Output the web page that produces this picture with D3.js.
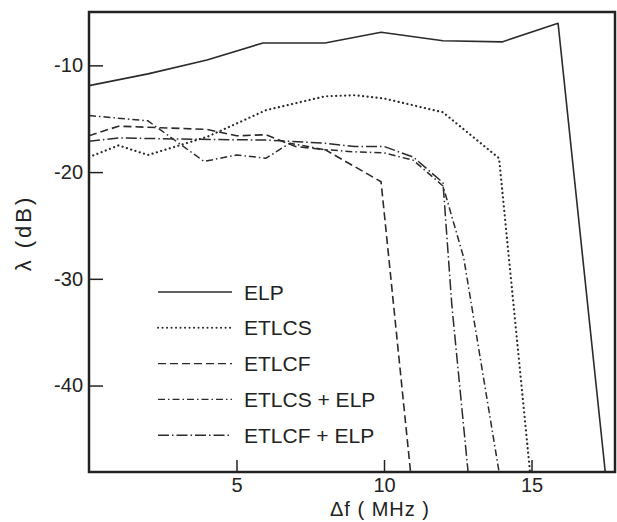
<!DOCTYPE html>
<html>
<head>
<meta charset="utf-8">
<script src="https://cdn.jsdelivr.net/npm/d3@7"></script>
<style>
    body { margin: 0; background: #fff; }
    svg { display: block; }
    text { font-family: "Liberation Sans", Arial, sans-serif; fill: #222; }
</style>
</head>
<body>
<svg width="617" height="522"></svg>
<script>
// values: delta f (MHz) vs lambda (dB)
const elpX = [0, 2, 4, 5.9, 8, 9.9, 12, 14, 15.9, 17.5];
const elpY = [-11.9, -10.8, -9.5, -7.9, -7.9, -6.9, -7.7, -7.8, -6.05, -48.1];

const etlcsX = [0, 1, 2, 4, 6, 8, 9, 10, 12, 13.9, 14.95];
const etlcsY = [-18.6, -17.5, -18.4, -16.7, -14.2, -12.9, -12.8, -13.1, -14.4, -18.7, -48.1];

const etlcfX = [0, 1, 4, 5, 6, 7, 8, 9.9, 10.9];
const etlcfY = [-16.6, -15.7, -16.0, -16.6, -16.5, -17.6, -17.9, -20.9, -48.1];

const etlcsElpX = [0, 2, 3.9, 5, 6, 6.8, 8, 9, 10, 11, 12, 12.7, 13.9];
const etlcsElpY = [-14.7, -15.2, -19.0, -18.4, -18.7, -17.3, -17.9, -18.1, -18.2, -18.9, -21.3, -28, -48.1];

const etlcfElpX = [0, 1, 3, 6, 8, 9, 10, 11, 12, 12.3, 12.85];
const etlcfElpY = [-17.1, -16.8, -16.9, -17.0, -17.3, -17.6, -17.6, -18.6, -21.0, -32.5, -48.1];

const seriesNames = ["ELP", "ETLCS", "ETLCF", "ETLCS + ELP", "ETLCF + ELP"];
const xTicks = [5, 10, 15];
const yTicks = [-10, -20, -30, -40];

let series = [
    {name: seriesNames[0], xs: elpX, ys: elpY, dash: null, cap: "butt", w: 1.6},
    {name: seriesNames[1], xs: etlcsX, ys: etlcsY, dash: "0.1,4.4", cap: "round", w: 2.2},
    {name: seriesNames[2], xs: etlcfX, ys: etlcfY, dash: "8,4", cap: "butt", w: 1.6},
    {name: seriesNames[3], xs: etlcsElpX, ys: etlcsElpY, dash: "7,3,1.5,3", cap: "butt", w: 1.5},
    {name: seriesNames[4], xs: etlcfElpX, ys: etlcfElpY, dash: "11,3,1.5,3", cap: "butt", w: 1.5}
];

let svg = d3.select("svg");
let x = d3.scaleLinear().domain([0, 17.83]).range([89, 615]);
let y = d3.scaleLinear().domain([-48.1, -5]).range([472, 12]);

svg.append("clipPath")
    .attr("id", "plot")
    .append("rect")
    .attr("x", x.range()[0])
    .attr("y", y.range()[1])
    .attr("width", x.range()[1] - x.range()[0])
    .attr("height", y.range()[0] - y.range()[1]);

let line = d3.line()
    .x(d => x(d[0]))
    .y(d => y(d[1]));

svg.append("g")
    .attr("clip-path", "url(#plot)")
    .selectAll("path")
    .data(series)
    .join("path")
    .attr("d", s => line(s.xs.map((v, i) => [v, s.ys[i]])))
    .attr("fill", "none")
    .attr("stroke", "#2b2b2b")
    .attr("stroke-width", s => s.w)
    .attr("stroke-linecap", s => s.cap)
    .attr("stroke-linejoin", "round")
    .attr("stroke-dasharray", s => s.dash);

// axes, ticks pointing inward
let xAxis = d3.axisBottom(x)
    .tickValues(xTicks)
    .tickSizeInner(-12)
    .tickSizeOuter(0)
    .tickPadding(6)
    .tickFormat(d => String(d));
let gx = svg.append("g")
    .attr("transform", "translate(0," + y.range()[0] + ")")
    .call(xAxis);
gx.select(".domain").remove();
gx.selectAll("line").attr("stroke", "#222").attr("stroke-width", 1.5);
gx.selectAll("text").style("font-size", "20px").attr("fill", "#222");

let yAxis = d3.axisLeft(y)
    .tickValues(yTicks)
    .tickSizeInner(-14)
    .tickSizeOuter(0)
    .tickPadding(6)
    .tickFormat(d => String(d));
let gy = svg.append("g")
    .attr("transform", "translate(" + x.range()[0] + ",0)")
    .call(yAxis);
gy.select(".domain").remove();
gy.selectAll("line").attr("stroke", "#222").attr("stroke-width", 1.5);
gy.selectAll("text").style("font-size", "20px").attr("fill", "#222");

// frame
svg.append("rect")
    .attr("x", x.range()[0])
    .attr("y", y.range()[1])
    .attr("width", x.range()[1] - x.range()[0])
    .attr("height", y.range()[0] - y.range()[1])
    .attr("fill", "none")
    .attr("stroke", "#222")
    .attr("stroke-width", 2.5);

// axis titles
svg.append("text")
    .attr("x", 380)
    .attr("y", 516)
    .attr("text-anchor", "middle")
    .style("font-size", "20px")
    .style("letter-spacing", "1px")
    .text("Δf ( MHz )");

svg.append("text")
    .attr("transform", "translate(31,233) rotate(-90)")
    .attr("text-anchor", "middle")
    .style("font-size", "22px")
    .style("letter-spacing", "3px")
    .text("λ (dB)");

// legend
let legend = svg.append("g")
    .selectAll("g")
    .data(series)
    .join("g")
    .attr("transform", (d, i) => "translate(158," + (292 + i * 35.8) + ")");
legend.append("line")
    .attr("x1", 0)
    .attr("x2", 74)
    .attr("stroke", "#2b2b2b")
    .attr("stroke-width", s => s.w * 0.9)
    .attr("stroke-linecap", s => s.cap)
    .attr("stroke-dasharray", s => s.dash);
legend.append("text")
    .attr("x", 86)
    .attr("dy", "0.36em")
    .style("font-size", "21px")
    .text(d => d.name);
</script>
</body>
</html>
